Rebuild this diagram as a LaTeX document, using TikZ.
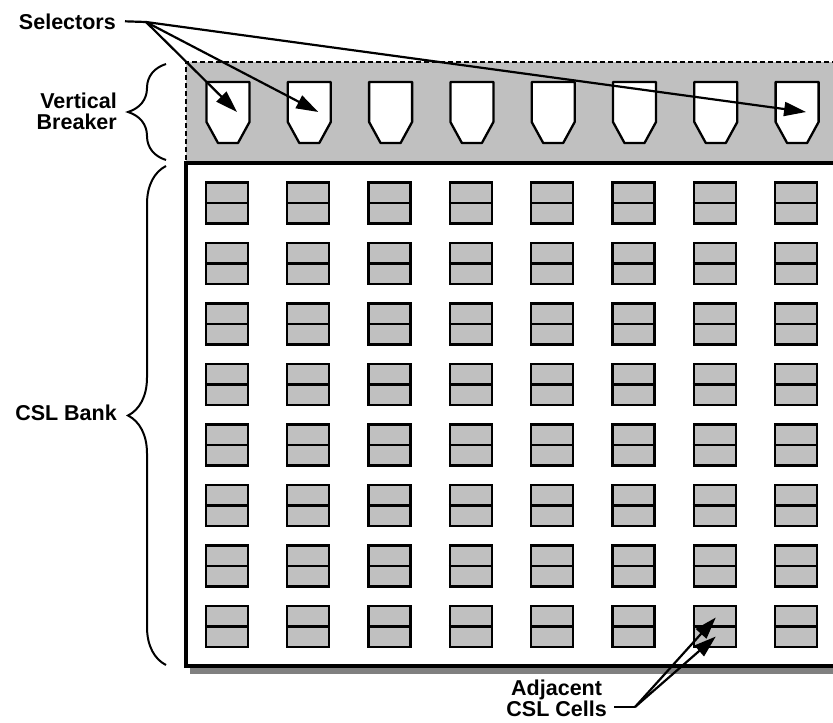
\documentclass[tikz,border=0pt]{standalone}
\usepackage{fontspec}
\setmainfont{Liberation Sans}
\usetikzlibrary{arrows.meta,decorations.pathreplacing}
\definecolor{fillgray}{HTML}{C0C0C0}
\definecolor{shadegray}{HTML}{808080}

\tikzset{
  cellbox/.style={draw, fill=fillgray, line width=2.3pt, minimum width=42pt,
    minimum height=41pt, inner sep=0pt},
  selbox/.style={draw, fill=white, line width=2.3pt, line join=round},
  callout/.style={font=\fontsize{21.5}{21}\selectfont\bfseries, inner sep=0pt},
  leader/.style={line width=2.2pt},
  pointer/.style={line width=2.2pt, -{Triangle[length=22pt,width=14pt]}},
  bracket/.style={line width=2pt, decorate,
    decoration={brace, amplitude=38pt}}
}

\begin{document}
\begin{tikzpicture}[x=1pt, y=-1pt]
  \useasboundingbox (0,0) rectangle (833,723);

  % Vertical breaker band
  \fill[fillgray] (186,62) rectangle (845,163);
  \draw[line width=2.2pt, dash pattern=on 5pt off 3pt] (845,62) -- (186,62) -- (186,163);

  % Selectors
  \foreach \i [evaluate=\i as \x using 228+81.3*(\i-1)] in {1,...,8} {
    \draw[selbox, shift={(\x,82)}] (-21.5,0) -- (21.5,0) -- (21.5,40)
      -- (10,61) -- (-10,61) -- (-21.5,40) -- cycle;
    \coordinate (tip\i) at (\x+9,112);
  }

  % CSL bank with shadow
  \draw[shadegray, line width=6pt] (190,671) -- (845,671);
  \draw[line width=4.5pt] (845,163) -- (186,163) -- (186,666) -- (845,666);

  % CSL cells
  \foreach \r in {1,...,8}
    \foreach \c in {1,...,8} {
      \node[cellbox] (cell-\r-\c) at ({227+81.3*(\c-1)},{203+60.5*(\r-1)}) {};
      \draw[line width=2.3pt] (cell-\r-\c.west) -- (cell-\r-\c.east);
    }

  % Braces and labels
  \draw[bracket] (166,160) -- (166,64);
  \draw[bracket] (166,665) -- (166,166);
  \node[callout, anchor=east, align=right] (brk-lbl) at (117,111) {Vertical\\Breaker};
  \node[callout, anchor=east] (bank-lbl) at (117,413) {CSL Bank};

  % Selectors callout
  \node[callout, anchor=base east] (sel-lbl) at (116,29) {Selectors};
  \coordinate (sel-hub) at (146,22);
  \draw[leader] ([xshift=9pt]sel-lbl.east) -- (sel-hub);
  \foreach \i in {1,2,8}
    \draw[pointer] (sel-hub) -- (tip\i);

  % Adjacent cells callout
  \node[callout, anchor=east, align=center] (adj-lbl) at (607,698) {Adjacent\\CSL Cells};
  \coordinate (adj-foot) at (614,707);
  \coordinate (adj-hub) at (635,707);
  \draw[leader] (adj-foot) -- (adj-hub);
  \draw[pointer] (adj-hub) -- ([shift={(1,-9)}]cell-8-7.center);
  \draw[pointer] (adj-hub) -- ([shift={(1,10)}]cell-8-7.center);
\end{tikzpicture}
\end{document}
